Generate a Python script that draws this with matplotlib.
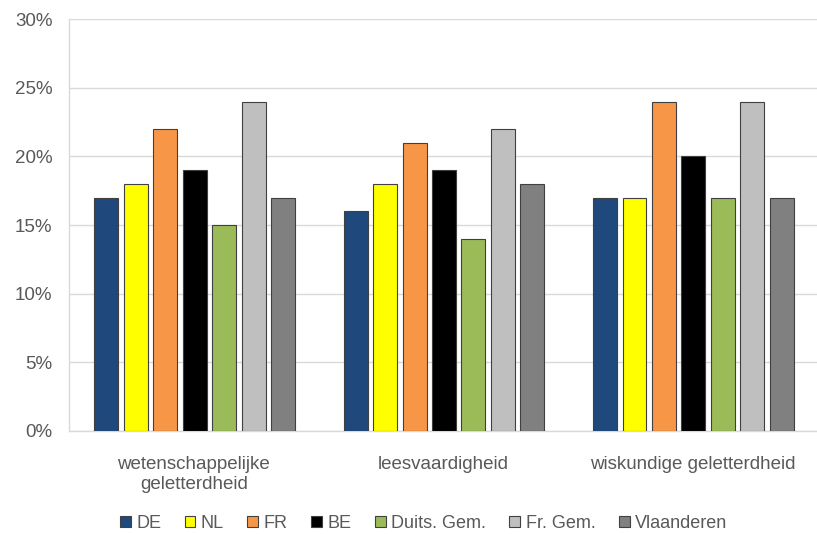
import matplotlib.pyplot as plt
import numpy as np

plt.rcParams['font.family'] = ['Liberation Sans', 'DejaVu Sans']

categories = ["wetenschappelijke\ngeletterdheid", "leesvaardigheid", "wiskundige geletterdheid"]
series = ["DE", "NL", "FR", "BE", "Duits. Gem.", "Fr. Gem.", "Vlaanderen"]
values = {
    "DE": [17, 16, 17],
    "NL": [18, 18, 17],
    "FR": [22, 21, 24],
    "BE": [19, 19, 20],
    "Duits. Gem.": [15, 14, 17],
    "Fr. Gem.": [24, 22, 24],
    "Vlaanderen": [17, 18, 17],
}
colors = ["#1F497D", "#FFFF00", "#F79646", "#000000", "#9BBB59", "#BFBFBF", "#808080"]

text_col = "#595959"
fig = plt.figure(figsize=(8.17, 5.34), dpi=100)
ax = fig.add_axes([0.0845, 0.193, 0.9155, 0.771])

x = np.arange(len(categories))
step = 0.118
width = 0.096
for i, s in enumerate(series):
    ax.bar(x + (i - 3) * step + 0.004, values[s], width, color=colors[i],
           edgecolor="#404040", linewidth=0.8, label=s, zorder=3)

ax.set_xlim(-0.5, 2.5)
ax.set_ylim(0, 30)
ax.set_yticks(range(0, 31, 5))
ax.set_yticklabels([f"{v}%" for v in range(0, 31, 5)])
ax.set_xticks(x)
ax.set_xticklabels(categories)
ax.tick_params(axis='both', length=0, labelsize=13.5, colors=text_col)
ax.tick_params(axis='x', pad=18)
ax.tick_params(axis='y', pad=12)
ax.grid(axis='y', color="#d9d9d9", linewidth=1, zorder=0)
for sp in ["top", "right"]:
    ax.spines[sp].set_visible(False)
for sp in ["left", "bottom"]:
    ax.spines[sp].set_color("#d9d9d9")
    ax.spines[sp].set_linewidth(1)

leg = ax.legend(loc="lower center", bbox_to_anchor=(0.474, -0.285), ncol=7,
                frameon=False, fontsize=13, handlelength=0.6, handleheight=0.6,
                handletextpad=0.3, columnspacing=1.3, labelcolor=text_col)
for h in leg.legend_handles:
    h.set_edgecolor("#404040")

fig.savefig("out.png", dpi=100)
